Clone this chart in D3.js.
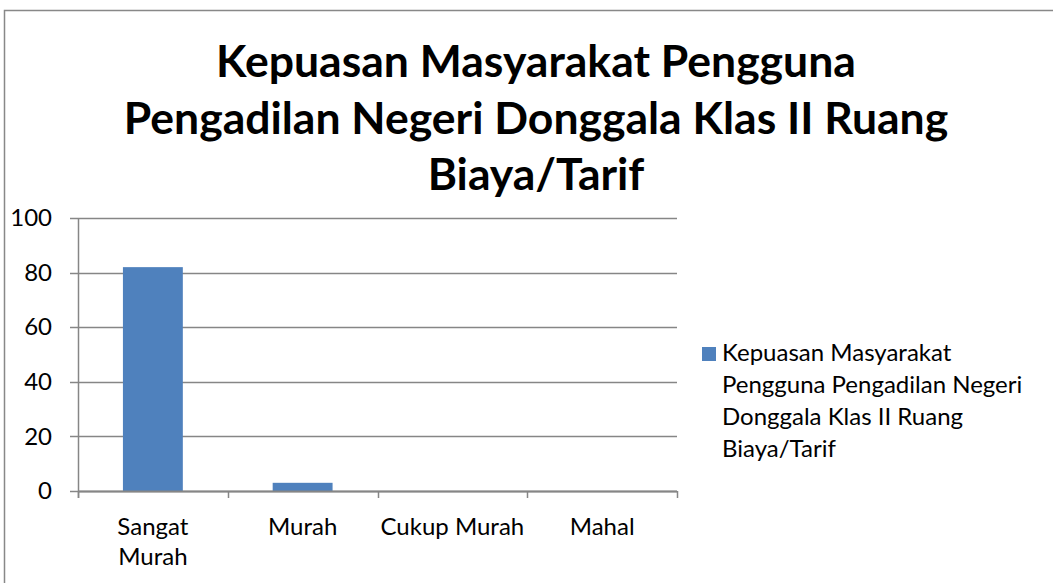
<!DOCTYPE html>
<html>
<head>
<meta charset="utf-8">
<script src="https://cdn.jsdelivr.net/npm/d3@7"></script>
<style>
  body { margin: 0; background: #fff; }
  svg { display: block; font-family: Lato, "Open Sans", sans-serif; }
</style>
</head>
<body>
<div id="chart"></div>
<script>
// data
var categories = ["Sangat Murah", "Murah", "Cukup Murah", "Mahal"];
var tickLines = [["Sangat", "Murah"], ["Murah"], ["Cukup Murah"], ["Mahal"]];
var values = [82, 3, 0, 0];
var yTicks = [0, 20, 40, 60, 80, 100];
var titleLines = ["Kepuasan Masyarakat Pengguna", "Pengadilan Negeri Donggala Klas II Ruang", "Biaya/Tarif"];
var legendLines = ["Kepuasan Masyarakat", "Pengguna Pengadilan Negeri", "Donggala Klas II Ruang", "Biaya/Tarif"];

var width = 1053;
var height = 583;

// plot area
var plotLeft = 78, plotRight = 677, plotTop = 218, plotBottom = 491;
var gridColor = "#868686";
var barColor = "#4F81BD";

var svg = d3.select("#chart")
  .append("svg")
  .attr("width", width)
  .attr("height", height);

// outer frame
svg.append("rect")
  .attr("x", 4.5)
  .attr("y", 10.5)
  .attr("width", 1060)
  .attr("height", 600)
  .attr("fill", "#fff")
  .attr("stroke", "#888")
  .attr("stroke-width", 1.5);

// title
svg.append("g")
  .selectAll("text")
  .data(titleLines)
  .enter()
  .append("text")
  .attr("x", 536)
  .attr("y", function (d, i) { return 77 + i * 56.5; })
  .attr("text-anchor", "middle")
  .attr("font-weight", "bold")
  .attr("font-size", 44.5)
  .attr("fill", "#000")
  .text(function (d) { return d; });

var xScale = d3.scaleBand()
  .domain(categories)
  .range([plotLeft, plotRight])
  .paddingInner(0.6)
  .paddingOuter(0.3);

var yScale = d3.scaleLinear()
  .domain([0, 100])
  .range([plotBottom, plotTop]);

// gridlines
svg.append("g")
  .selectAll("line")
  .data(yTicks)
  .enter()
  .append("line")
  .attr("x1", plotLeft - 8)
  .attr("x2", plotRight)
  .attr("y1", function (d) { return Math.round(yScale(d)) + 0.5; })
  .attr("y2", function (d) { return Math.round(yScale(d)) + 0.5; })
  .attr("stroke", gridColor)
  .attr("stroke-width", 1.5);

// y axis
var yAxis = d3.axisLeft(yScale)
  .tickValues(yTicks)
  .tickSize(0)
  .tickPadding(26);

svg.append("g")
  .attr("class", "yAxis")
  .attr("transform", "translate(" + plotLeft + ",0)")
  .call(yAxis)
  .call(function (g) {
    g.select(".domain").remove();
    g.selectAll("text")
      .attr("font-size", 24)
      .attr("font-family", "Lato, sans-serif")
      .attr("fill", "#000");
  });

svg.append("line")
  .attr("x1", plotLeft + 0.5)
  .attr("x2", plotLeft + 0.5)
  .attr("y1", plotTop)
  .attr("y2", plotBottom + 7)
  .attr("stroke", gridColor)
  .attr("stroke-width", 1.5);

// bars
svg.append("g")
  .selectAll("rect")
  .data(values)
  .enter()
  .append("rect")
  .attr("x", function (d, i) { return xScale(categories[i]); })
  .attr("y", function (d) { return yScale(d); })
  .attr("width", xScale.bandwidth())
  .attr("height", function (d) { return plotBottom - yScale(d); })
  .attr("fill", barColor);

// x axis line and boundary ticks
svg.append("line")
  .attr("x1", plotLeft)
  .attr("x2", plotRight)
  .attr("y1", plotBottom + 0.5)
  .attr("y2", plotBottom + 0.5)
  .attr("stroke", gridColor)
  .attr("stroke-width", 2);

var step = xScale.step();
var firstEdge = xScale(categories[0]) - xScale.paddingOuter() * step;
svg.append("g")
  .selectAll("line")
  .data(d3.range(categories.length + 1))
  .enter()
  .append("line")
  .attr("x1", function (i) { return Math.round(firstEdge + i * step) + 0.5; })
  .attr("x2", function (i) { return Math.round(firstEdge + i * step) + 0.5; })
  .attr("y1", plotBottom)
  .attr("y2", plotBottom + 7)
  .attr("stroke", gridColor)
  .attr("stroke-width", 1.5);

// x labels
var xLabels = svg.append("g")
  .selectAll("text")
  .data(categories)
  .enter()
  .append("text")
  .attr("x", function (d) { return xScale(d) + xScale.bandwidth() / 2; })
  .attr("y", 535)
  .attr("text-anchor", "middle")
  .attr("font-size", 24)
  .attr("fill", "#000");

xLabels.each(function (d, i) {
  d3.select(this)
    .selectAll("tspan")
    .data(tickLines[i])
    .enter()
    .append("tspan")
    .attr("x", xScale(d) + xScale.bandwidth() / 2)
    .attr("dy", function (t, j) { return j === 0 ? 0 : 30; })
    .text(function (t) { return t; });
});

// legend
var legend = svg.append("g");
legend.append("rect")
  .attr("x", 702)
  .attr("y", 347)
  .attr("width", 14)
  .attr("height", 14)
  .attr("fill", barColor);

legend.selectAll("text")
  .data(legendLines)
  .enter()
  .append("text")
  .attr("x", 722)
  .attr("y", function (d, i) { return 361 + i * 32; })
  .attr("font-size", 24)
  .attr("fill", "#000")
  .text(function (d) { return d; });
</script>
</body>
</html>
